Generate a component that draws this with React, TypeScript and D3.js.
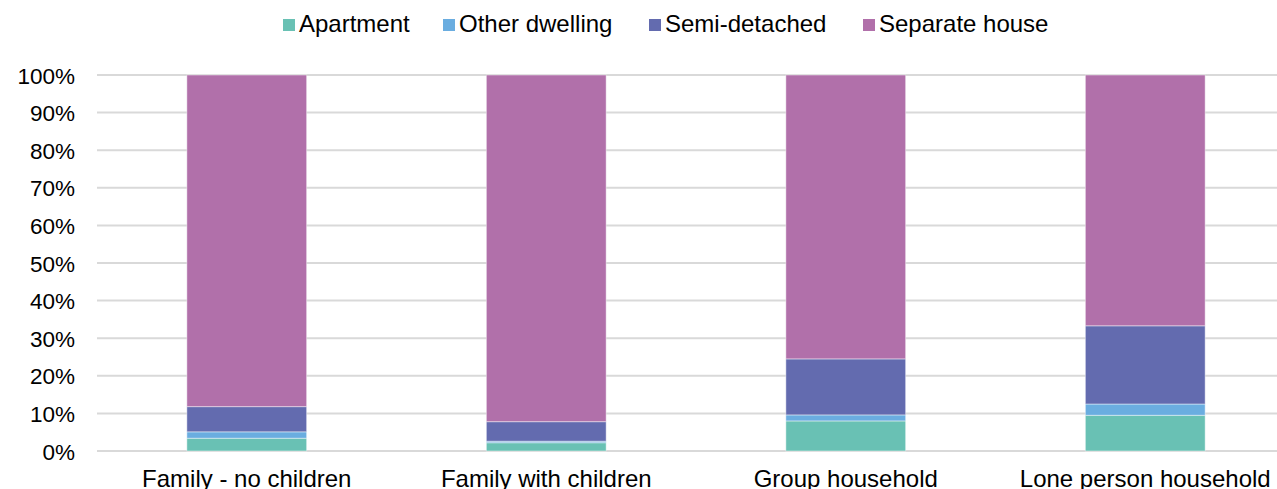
import React from "react";
import * as d3 from "d3";

const categories = ["Family - no children", "Family with children", "Group household", "Lone person household"];
const seriesNames = ["Apartment", "Other dwelling", "Semi-detached", "Separate house"];
const apartment = [3.4, 2.2, 8.0, 9.5];
const otherDwelling = [1.7, 0.4, 1.6, 3.0];
const semiDetached = [6.7, 5.2, 14.9, 20.8];
const separateHouse = [88.2, 92.2, 75.5, 66.7];
const yTicks = [0, 10, 20, 30, 40, 50, 60, 70, 80, 90, 100];
const colors = ["#69c1b4", "#6aade0", "#636baf", "#b170aa"];

const W = 1277;
const H = 489;
const FONT = "'Liberation Sans', Arial, sans-serif";

export default function App() {
  const series = [apartment, otherDwelling, semiDetached, separateHouse];
  const rows = categories.map((c, i) => {
    const r: any = { cat: c };
    seriesNames.forEach((s, j) => (r[s] = series[j][i]));
    return r;
  });
  const stacked = d3.stack().keys(seriesNames)(rows);

  const x = d3.scaleBand<string>().domain(categories).range([97, 1295]).paddingInner(0.6).paddingOuter(0.3);
  const y = d3.scaleLinear().domain([0, 100]).range([451, 75]);

  const legendX = [283, 443, 649, 863];

  return (
    <svg width={W} height={H} style={{ position: "absolute", left: 0, top: 0, overflow: "hidden", background: "#fff" }} fontFamily={FONT}>
      {yTicks.map((t) => (
        <g key={t}>
          <line x1={97} x2={W} y1={y(t)} y2={y(t)} stroke="#d9d9d9" strokeWidth={2} />
          <text x={75} y={y(t) + 8.5} textAnchor="end" fontSize={22.5} fill="#000">
            {t}%
          </text>
        </g>
      ))}
      {stacked.map((s, j) => (
        <g key={s.key} fill={colors[j]}>
          {s.map((d, i) => (
            <rect
              key={i}
              x={x(categories[i])}
              width={x.bandwidth()}
              y={y(d[1])}
              height={y(d[0]) - y(d[1])}
              stroke="#ffffff"
              strokeOpacity={0.45}
              strokeWidth={1}
            />
          ))}
        </g>
      ))}
      {categories.map((c) => (
        <text key={c} x={(x(c) as number) + x.bandwidth() / 2} y={487} textAnchor="middle" fontSize={24} fill="#000">
          {c}
        </text>
      ))}
      {seriesNames.map((s, j) => (
        <g key={s}>
          <rect x={legendX[j]} y={19} width={12} height={12} fill={colors[j]} />
          <text x={legendX[j] + 16} y={32} fontSize={24} fill="#000">
            {s}
          </text>
        </g>
      ))}
    </svg>
  );
}
